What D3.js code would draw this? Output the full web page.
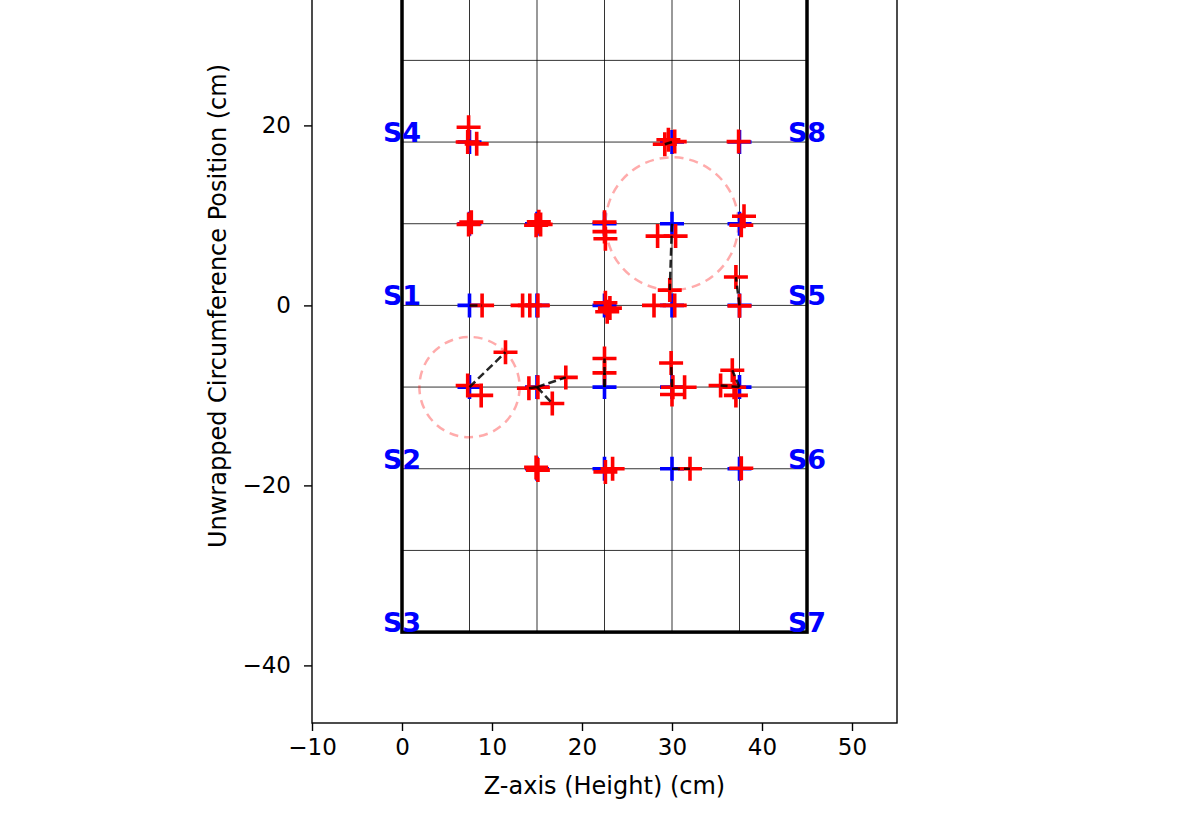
<!DOCTYPE html>
<html><head><meta charset="utf-8">
<script src="https://cdn.jsdelivr.net/npm/d3@7"></script>
<style>html,body{margin:0;padding:0;background:#fff;}svg{display:block;font-family:"DejaVu Sans",sans-serif;}</style>
</head><body>
<script>
// ---- data ----
const zGrid = [7.5, 15, 22.5, 30, 37.5];
const circGrid = [-27.225, -18.15, -9.075, 0, 9.075, 18.15, 27.225];
const boxZ = [0, 45];
const boxC = [-36.3, 36.3];
const xTicks = [-10, 0, 10, 20, 30, 40, 50];
const yTicks = [-40, -20, 0, 20];
const sensorNames = ["S1", "S2", "S3", "S4", "S5", "S6", "S7", "S8"];
const sensorZ = [0, 0, 0, 0, 45, 45, 45, 45];
const sensorC = [0, -18.15, -36.3, 18.15, 0, -18.15, -36.3, 18.15];
const nominalZ = [7.5, 30, 37.5, 7.5, 15, 22.5, 30, 37.5, 7.5, 15, 22.5, 30, 37.5, 7.5, 15, 22.5, 30, 37.5, 15, 22.5, 30, 37.5];
const nominalC = [18.15, 18.15, 18.15, 9.075, 9.075, 9.075, 9.075, 9.075, 0, 0, 0, 0, 0, -9.075, -9.075, -9.075, -9.075, -9.075, -18.15, -18.15, -18.15, -18.15];
const measRef = [0,0,0, 1,1,1, 2, 3,3, 4,4,4, 5,5,5, 6,6,6, 7,7, 8, 9,9,9, 10,10,10, 11,11, 12,12, 13,13,13, 14,14,14,14, 15,15, 16,16,16,16, 17,17,17,17, 18,18, 19,19, 20, 21];
const measZ = [7.4,7.3,8.3, 30.3,29.2,29.6, 37.4, 7.7,7.4, 15.2,14.9,15.4, 22.5,22.5,22.6, 28.4,30.4,29.75, 38.0,37.7, 8.9, 13.4,14.2,15.1, 22.6,23.1,22.8, 28.0,30.3, 37.5,37.1, 7.3,8.8,11.5, 15.1,14.1,18.2,16.7, 22.5,22.5, 29.9,30.1,31.4,30.0, 36.7,35.4,36.9,37.1, 15.1,14.9, 22.6,23.4, 32.0, 37.7];
const measC = [19.8,18.15,17.95, 18.2,17.9,18.4, 18.2, 9.25,9.0, 9.3,8.9,9.0, 9.25,8.2,7.4, 7.7,7.7,1.7, 9.9,8.9, 0.0, 0,0,0, 0.3,-0.3,-0.7, 0,0, -0.05,3.15, -8.9,-10.0,-5.2, -9.1,-9.2,-8.0,-10.9, -5.9,-7.5, -6.4,-9.1,-9.1,-9.9, -7.2,-8.9,-9.1,-10.0, -18.3,-18.0, -18.5,-18.15, -18.15, -18.1];
const measLink = [0,0,0, 0,1,0, 0, 0,0, 0,0,0, 0,0,0, 0,0,1, 0,0, 1, 0,0,0, 0,0,0, 0,0, 0,1, 0,0,1, 0,1,1,1, 1,1, 1,0,0,0, 1,1,0,0, 0,0, 0,0, 1, 0];
const circleThreshold = 5;

// ---- layout ----
const W = 1200, H = 817;
const svg = d3.select("body").append("svg").attr("width", W).attr("height", H);
const x = d3.scaleLinear().domain([-10, 55]).range([312, 897]);
const y = d3.scaleLinear().domain([-46.4, 46.3]).range([723, -111.3]);

const g = svg.append("g");
g.append("defs").append("clipPath").attr("id", "clip")
  .append("rect").attr("x", 312).attr("y", -111.3).attr("width", 585).attr("height", 834.3);
const plot = g.append("g").attr("clip-path", "url(#clip)");

// grid
plot.selectAll("line.vg").data(zGrid).join("line")
  .attr("x1", d => x(d)).attr("x2", d => x(d))
  .attr("y1", y(boxC[0])).attr("y2", y(boxC[1]))
  .attr("stroke", "#000").attr("stroke-opacity", 0.8).attr("stroke-width", 1);
plot.selectAll("line.hg").data(circGrid).join("line")
  .attr("x1", x(boxZ[0])).attr("x2", x(boxZ[1]))
  .attr("y1", d => y(d)).attr("y2", d => y(d))
  .attr("stroke", "#000").attr("stroke-opacity", 0.8).attr("stroke-width", 1);
// border
plot.append("rect")
  .attr("x", x(boxZ[0])).attr("y", y(boxC[1]))
  .attr("width", x(boxZ[1]) - x(boxZ[0])).attr("height", y(boxC[0]) - y(boxC[1]))
  .attr("fill", "none").attr("stroke", "#000").attr("stroke-width", 3.5);

// circles
const maxDist = nominalZ.map((nz, i) => {
  let m = 0;
  measRef.forEach((r, j) => { if (r === i) m = Math.max(m, Math.hypot(measZ[j] - nz, measC[j] - nominalC[i])); });
  return m;
});
const circ = nominalZ.map((d, i) => i).filter(i => maxDist[i] > circleThreshold);
plot.selectAll("circle.err").data(circ).join("circle")
  .attr("cx", i => x(nominalZ[i])).attr("cy", i => y(nominalC[i]))
  .attr("r", i => x(maxDist[i]) - x(0))
  .attr("fill", "none").attr("stroke", "#ff0000").attr("stroke-opacity", 0.33)
  .attr("stroke-width", 2.5).attr("stroke-dasharray", "9,6");

function plus(sel, cx, cy, color) {
  const a = 12;
  sel.append("path")
    .attr("d", `M${cx - a},${cy}H${cx + a}M${cx},${cy - a}V${cy + a}`)
    .attr("stroke", color).attr("stroke-width", 3.6).attr("fill", "none");
}
const nomG = plot.append("g");
nominalZ.forEach((d, i) => plus(nomG, x(d), y(nominalC[i]), "#0000ff"));
const measG = plot.append("g");
measZ.forEach((d, j) => plus(measG, x(d), y(measC[j]), "#ff0000"));

// dashed links
const links = measZ.map((d, j) => j).filter(j => measLink[j]);
plot.selectAll("line.lk").data(links).join("line")
  .attr("x1", j => x(nominalZ[measRef[j]])).attr("y1", j => y(nominalC[measRef[j]]))
  .attr("x2", j => x(measZ[j])).attr("y2", j => y(measC[j]))
  .attr("stroke", "#000").attr("stroke-opacity", 0.85).attr("stroke-width", 2.5).attr("stroke-dasharray", "8,4");

// sensor labels
plot.selectAll("text.s").data(sensorNames).join("text")
  .attr("x", (d, i) => x(sensorZ[i])).attr("y", (d, i) => y(sensorC[i]))
  .attr("text-anchor", "middle").attr("fill", "#0000ff")
  .attr("font-weight", "bold").attr("font-size", 27).text(d => d);

// spines
g.append("rect").attr("x", 312).attr("y", -111.3).attr("width", 585).attr("height", 834.3)
  .attr("fill", "none").attr("stroke", "#000").attr("stroke-width", 1.4);

// axes
const xAxis = g.append("g").attr("transform", "translate(0,723)")
  .call(d3.axisBottom(x).tickValues(xTicks).tickSize(8).tickPadding(8));
const yAxis = g.append("g").attr("transform", "translate(312,0)")
  .call(d3.axisLeft(y).tickValues(yTicks).tickSize(8).tickPadding(13));
[xAxis, yAxis].forEach(a => {
  a.select(".domain").remove();
  a.selectAll("text").attr("font-size", 23).attr("font-family", "DejaVu Sans").attr("fill", "#000");
  a.selectAll("line").attr("stroke", "#000").attr("stroke-width", 1.4);
});

svg.append("text").attr("x", 604.5).attr("y", 794).attr("text-anchor", "middle")
  .attr("font-size", 24).text("Z-axis (Height) (cm)");
svg.append("text").attr("transform", "translate(226,306) rotate(-90)").attr("text-anchor", "middle")
  .attr("font-size", 24).text("Unwrapped Circumference Position (cm)");
</script>
</body></html>
